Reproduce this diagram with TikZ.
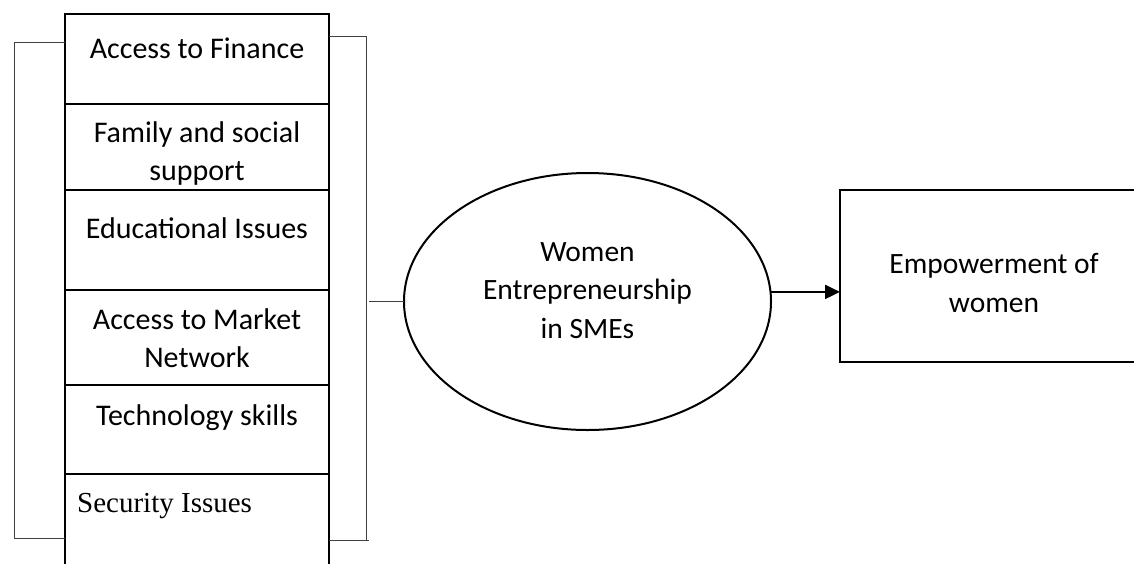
\documentclass[tikz,border=0pt]{standalone}
\usepackage{fontspec}
\setmainfont{Carlito}
\newfontfamily\serifface{Liberation Serif}
\usetikzlibrary{positioning, arrows.meta, shapes.geometric}

\begin{document}
\begin{tikzpicture}[x=1pt, y=-1pt, cell/.style={draw, line width=2pt, minimum width=264pt, inner sep=0pt, outer sep=0pt},fac/.style={font=\fontsize{30}{37.5}\selectfont, align=center, inner sep=0pt, anchor=base},brk/.style={line width=1pt, color=black!75},arr/.style={-{Triangle[length=15pt, width=14pt]}, line width=2pt}]
\clip (0,0) rectangle (1134,563);
% stacked factor cells, open at the bottom
\node[cell, minimum height=90pt, anchor=north west] (c1) at (65,14) {};
\node[cell, minimum height=86pt, below=0pt of c1] (c2) {};
\node[cell, minimum height=100pt, below=0pt of c2] (c3) {};
\node[cell, minimum height=95pt, below=0pt of c3] (c4) {};
\node[cell, minimum height=89pt, below=0pt of c4] (c5) {};
\node[cell, minimum height=106pt, below=0pt of c5] (c6) {};
\node[fac] (t1) at ([yshift=-44pt]c1.north) {Access to Finance};
\node[fac] (t2) at ([yshift=-76pt]c2.north) {Family and social\\support};
\node[fac] (t3) at ([yshift=-48pt]c3.north) {Educational Issues};
\node[fac] (t4) at ([yshift=-77pt]c4.north) {Access to Market\\Network};
\node[fac] (t5) at ([yshift=-40pt]c5.north) {Technology skills};
\node[fac, font=\serifface\fontsize{29}{35}\selectfont, anchor=base west] (t6) at ([xshift=12pt, yshift=-38pt]c6.north west) {Security Issues};
% brackets round the column
\coordinate (lbt) at (14,42); \coordinate (lbb) at (14,538);
\coordinate (rbt) at (366,36); \coordinate (rbb) at (366,540);
\draw[brk] (lbt -| c1.west) -- (lbt) -- (lbb) -- (lbb -| c1.west);
\draw[brk] (rbt -| c1.east) -- (rbt) -- (rbb);
\draw[brk] (rbb -| c1.east) -- ([xshift=3pt]rbb);
% entrepreneurship and outcome
\node[draw, ellipse, line width=2pt, minimum width=367pt, minimum height=257pt, inner sep=0pt, outer sep=0pt] (ent) at (587.5,301.5) {};
\node[fac, font=\fontsize{29.5}{38.5}\selectfont] (enttxt) at (587.5,338) {Women\\Entrepreneurship\\in SMEs};
\node[draw, line width=2pt, minimum width=308pt, minimum height=172pt, inner sep=0pt, outer sep=0pt] (emp) at (994,276) {};
\node[fac, font=\fontsize{29.5}{39}\selectfont] (emptxt) at (994,312) {Empowerment of\\women};
\draw[brk] ([xshift=3pt]ent.west -| rbt) -- (ent.west);
\draw[arr] (ent.3) -- (ent.3 -| emp.west);
\end{tikzpicture}
\end{document}
